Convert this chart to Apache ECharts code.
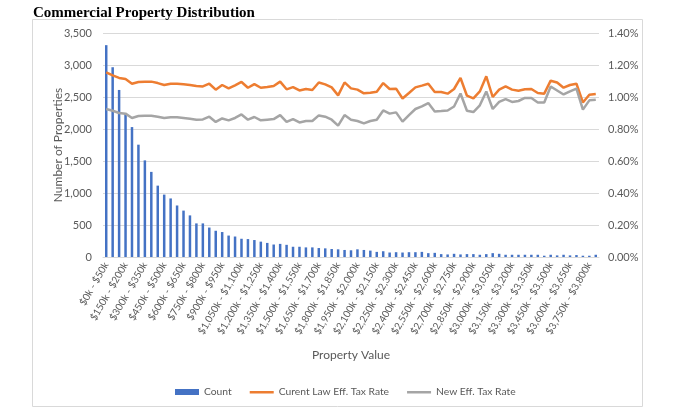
<!DOCTYPE html>
<html>
<head>
<meta charset="utf-8">
<script src="https://cdn.jsdelivr.net/npm/echarts@6/dist/echarts.min.js"></script>
<style>
  html, body { margin: 0; padding: 0; background: #fff; }
  #chart { width: 689px; height: 415px; }
</style>
</head>
<body>
<div id="chart"></div>
<script>
// 价格区间：$0k - $50k ... 每档 50k，共 77 档
var categories = [];
for (var i = 0; i < 77; i++) {
  var lo = i * 50, hi = lo + 50;
  categories.push('$' + lo.toLocaleString('en-US') + 'k - $' + hi.toLocaleString('en-US') + 'k');
}

// 物业数量
var countData = [
  3310, 2965, 2610, 2250, 2030, 1755, 1510, 1330, 1115, 975,
  915, 805, 725, 650, 525, 525, 460, 410, 390, 335,
  320, 285, 280, 265, 240, 220, 195, 205, 190, 160,
  160, 150, 150, 140, 135, 125, 120, 110, 105, 120,
  110, 100, 80, 90, 70, 75, 70, 75, 75, 80,
  60, 65, 45, 40, 50, 40, 45, 45, 35, 45,
  60, 50, 35, 35, 35, 35, 35, 35, 20, 35,
  25, 35, 25, 30, 20, 20, 35
];

// 现行法律有效税率 (%)
var currentRate = [
  1.154, 1.135, 1.119, 1.112, 1.083, 1.094, 1.096, 1.096, 1.087, 1.075,
  1.083, 1.083, 1.079, 1.075, 1.069, 1.066, 1.083, 1.046, 1.075, 1.054,
  1.073, 1.094, 1.058, 1.081, 1.058, 1.062, 1.069, 1.096, 1.048, 1.062,
  1.041, 1.050, 1.044, 1.091, 1.079, 1.060, 1.010, 1.091, 1.054, 1.046,
  1.023, 1.027, 1.033, 1.087, 1.050, 1.052, 0.991, 1.025, 1.060, 1.071,
  1.083, 1.031, 1.031, 1.021, 1.050, 1.119, 1.008, 0.991, 1.035, 1.129,
  1.000, 1.046, 1.066, 1.046, 1.039, 1.048, 1.050, 1.025, 1.021, 1.102,
  1.091, 1.058, 1.075, 1.083, 0.966, 1.014, 1.019
];

// 新有效税率 (%)
var newRate = [
  0.925, 0.914, 0.900, 0.896, 0.869, 0.881, 0.883, 0.883, 0.877, 0.869,
  0.873, 0.873, 0.869, 0.864, 0.858, 0.860, 0.877, 0.844, 0.866, 0.854,
  0.869, 0.891, 0.858, 0.875, 0.854, 0.858, 0.862, 0.887, 0.844, 0.862,
  0.841, 0.850, 0.850, 0.885, 0.877, 0.858, 0.821, 0.887, 0.858, 0.850,
  0.835, 0.850, 0.858, 0.916, 0.896, 0.904, 0.846, 0.887, 0.925, 0.941,
  0.962, 0.910, 0.912, 0.916, 0.941, 1.022, 0.914, 0.906, 0.948, 1.035,
  0.925, 0.969, 0.987, 0.969, 0.975, 0.994, 0.994, 0.966, 0.966, 1.066,
  1.041, 1.016, 1.035, 1.052, 0.921, 0.979, 0.983
];

var axisFont = 'Lato';
var labelColor = '#595959';
var gridColor = '#D9D9D9';
// 图例里的线条图标（细横条，上下留空）
var lineIcon = 'path://M0,0L0.01,0M0,2L24,2L24,4.5L0,4.5ZM0,6L0.01,6';

var myChart = echarts.init(document.getElementById('chart'));

var option = {
  animation: false,
  textStyle: { fontFamily: axisFont },
  title: {
    text: 'Commercial Property Distribution',
    left: 28,
    top: 1,
    textStyle: {
      fontFamily: 'Liberation Serif',
      fontWeight: 'bold',
      fontSize: 15,
      color: '#000'
    }
  },
  graphic: [
    {
      type: 'rect',
      shape: { x: 32.5, y: 19.5, width: 610, height: 387 },
      style: { fill: null, stroke: '#D9D9D9', lineWidth: 1 },
      silent: true
    }
  ],
  grid: {
    left: 103,
    right: 90,
    top: 33,
    bottom: 158,
    containLabel: false
  },
  legend: {
    left: 170,
    top: 382,
    itemGap: 18,
    itemWidth: 24,
    itemHeight: 6,
    textStyle: { fontFamily: axisFont, fontSize: 10.3, color: labelColor },
    data: [
      { name: 'Count', icon: 'rect' },
      { name: 'Curent Law Eff. Tax Rate', icon: lineIcon, itemStyle: { color: '#ED7D31' } },
      { name: 'New Eff. Tax Rate', icon: lineIcon, itemStyle: { color: '#A5A5A5' } }
    ]
  },
  xAxis: {
    type: 'category',
    data: categories,
    name: 'Property Value',
    nameLocation: 'middle',
    nameGap: 92,
    nameMoveOverlap: false,
    nameTextStyle: { fontFamily: axisFont, fontSize: 12, color: labelColor },
    axisLine: { lineStyle: { color: gridColor } },
    axisTick: { show: false },
    axisLabel: {
      interval: 2,
      rotate: 60,
      fontSize: 10,
      color: labelColor,
      margin: 6
    }
  },
  yAxis: [
    {
      type: 'value',
      min: 0,
      max: 3500,
      interval: 500,
      name: 'Number of Properties',
      nameLocation: 'middle',
      nameGap: 39,
      nameMoveOverlap: false,
      nameTextStyle: { fontFamily: axisFont, fontSize: 12, color: labelColor },
      axisLine: { show: false },
      axisTick: { show: false },
      splitLine: { lineStyle: { color: gridColor } },
      axisLabel: {
        fontSize: 11,
        color: labelColor,
        margin: 11,
        formatter: function (v) { return v.toLocaleString('en-US'); }
      }
    },
    {
      type: 'value',
      min: 0,
      max: 1.4,
      interval: 0.2,
      position: 'right',
      axisLine: { show: false },
      axisTick: { show: false },
      splitLine: { show: false },
      axisLabel: {
        fontSize: 11,
        color: labelColor,
        margin: 9,
        formatter: function (v) { return v.toFixed(2) + '%'; }
      }
    }
  ],
  series: [
    {
      name: 'Count',
      type: 'bar',
      data: countData,
      barWidth: 2.5,
      itemStyle: { color: '#4472C4' }
    },
    {
      name: 'Curent Law Eff. Tax Rate',
      type: 'line',
      yAxisIndex: 1,
      data: currentRate,
      symbol: 'none',
      lineStyle: { color: '#ED7D31', width: 2.5 },
      itemStyle: { color: '#ED7D31' }
    },
    {
      name: 'New Eff. Tax Rate',
      type: 'line',
      yAxisIndex: 1,
      data: newRate,
      symbol: 'none',
      lineStyle: { color: '#A5A5A5', width: 2.5 },
      itemStyle: { color: '#A5A5A5' }
    }
  ]
};

myChart.setOption(option);
</script>
</body>
</html>
